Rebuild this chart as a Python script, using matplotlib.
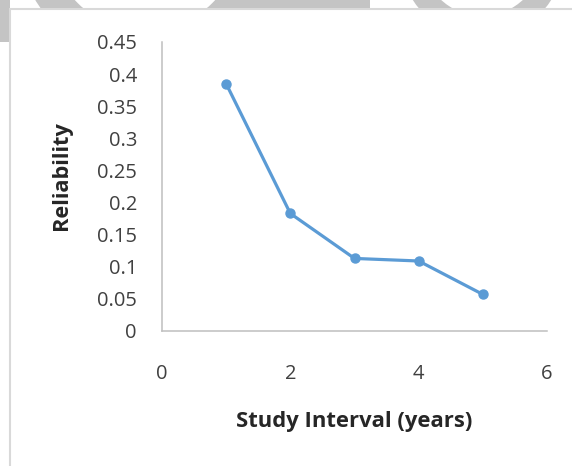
import matplotlib.pyplot as plt
from matplotlib.patches import Circle, Rectangle
import numpy as np

# data
interval_years = [1, 2, 3, 4, 5]
reliability = [0.385, 0.183, 0.113, 0.109, 0.057]
x_ticks = [0, 2, 4, 6]
y_ticks = [0, 0.05, 0.1, 0.15, 0.2, 0.25, 0.3, 0.35, 0.4, 0.45]

W, H = 572, 466
plt.rcParams['font.family'] = ['Open Sans', 'DejaVu Sans']

fig = plt.figure(figsize=(W / 100, H / 100), dpi=100)
fig.patch.set_facecolor('white')

# faint watermark pieces above the framed chart (pixel coords, origin bottom-left)
wm = '#c4c4c4'
for cx, dy, r_out, r_in in [(145, 64, 127, 95), (482, 44, 82, 60)]:
    fig.add_artist(Circle((cx, H + dy), (r_out + r_in) / 2, transform=None,
                          fill=False, lw=(r_out - r_in) * 0.72, ec=wm, zorder=0))
fig.add_artist(Rectangle((215, H - 8), 155, 10, transform=None, fc=wm, ec='none', zorder=0))
fig.add_artist(Rectangle((0, H - 42), 10, 42, transform=None, fc=wm, ec='none', zorder=0))

# chart frame
fig.add_artist(Rectangle((10, -5), W, H - 9 + 5, transform=None,
                         fc='white', ec='#d9d9d9', lw=1.5, zorder=1))

ax = fig.add_axes([162 / W, (H - 331) / H, (547 - 162) / W, (331 - 42) / H], zorder=2)
ax.patch.set_alpha(0)
ax.plot(interval_years, reliability, color='#5b9bd5', lw=2.3,
        marker='o', markersize=6.5, solid_capstyle='round')

ax.set_xlim(0, 6)
ax.set_ylim(0, 0.45)
ax.set_xticks(x_ticks)
ax.set_yticks(y_ticks)
ax.set_yticklabels([f'{v:g}' for v in y_ticks])
ax.tick_params(length=0, labelsize=14.5, labelcolor='#404040')
ax.tick_params(axis='y', pad=18)
ax.tick_params(axis='x', pad=24)

for side in ['top', 'right']:
    ax.spines[side].set_visible(False)
for side in ['left', 'bottom']:
    ax.spines[side].set_color('#bfbfbf')
    ax.spines[side].set_linewidth(1.1)

fig.text(354 / W, (H - 422) / H, 'Study Interval (years)', ha='center', va='center',
         fontsize=15.8, fontweight='bold', color='#262626')
fig.text(61 / W, (H - 176) / H, 'Reliability', ha='center', va='center', rotation=90,
         fontsize=15.7, fontweight='bold', color='#262626')

fig.savefig('out.png', dpi=100, facecolor='white')
